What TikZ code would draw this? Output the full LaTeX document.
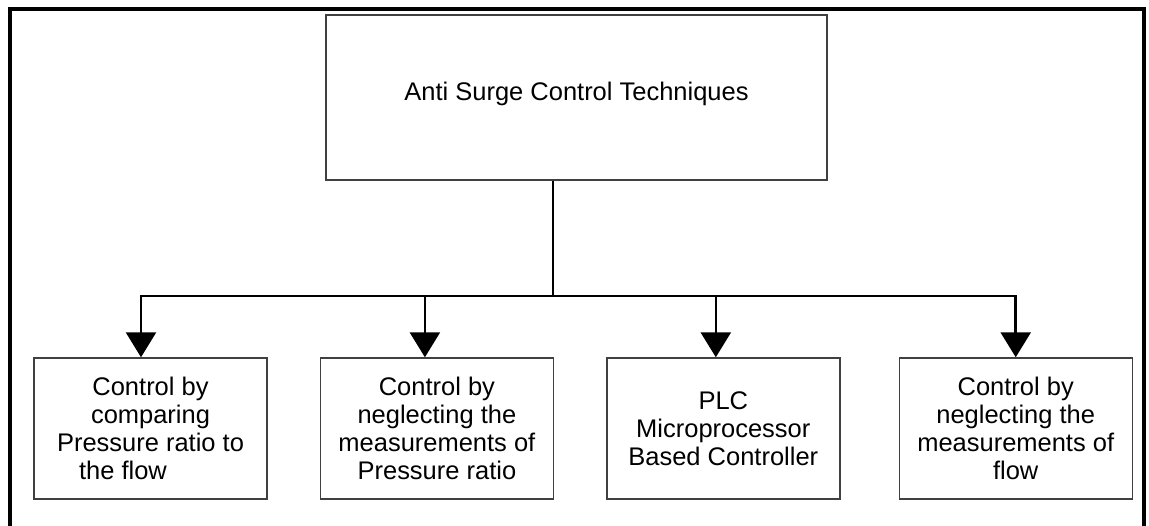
\documentclass[tikz,border=0pt]{standalone}
\usepackage{fontspec}
\setmainfont{Liberation Sans}
\usetikzlibrary{positioning,arrows.meta}

\begin{document}
\begin{tikzpicture}[
	box/.style={draw=black!75, line width=0.8pt, align=center, inner sep=0pt,
		font=\fontsize{14.5}{15.9}\selectfont},
	leaf/.style={box, minimum width=4.66cm, minimum height=2.82cm},
	link/.style={line width=1.5pt},
	branch/.style={link, -{Triangle[width=0.6cm,length=0.5cm]}}
	]
	\useasboundingbox (0,0) rectangle (22.98,10.52);
	
	% draw outer frame
	\draw[line width=2pt] (0.2,0) -- (0.2,10.34) -- (22.88,10.34) -- (22.88,0);
	
	% draw top node
	\node[box, minimum width=10.02cm, minimum height=3.3cm, text depth=0.23cm] (top) at (11.53,8.57) {Anti Surge Control Techniques};
	
	% draw bottom nodes
	\node[leaf] (c1) at (3.01,1.95) {Control by\\comparing\\Pressure ratio to\\the flow\hspace{1.1cm}\mbox{}};
	\node[leaf, right=1.04cm of c1] (c2) {Control by\\neglecting the\\measurements of\\Pressure ratio};
	\node[leaf, right=1.04cm of c2] (c3) {PLC\\Microprocessor\\Based Controller};
	\node[leaf, right=1.16cm of c3] (c4) {Control by\\neglecting the\\measurements of\\flow};
	
	% draw connectors
	\coordinate (stem) at ([xshift=-0.47cm]top.south);
	\coordinate (bus) at (11.06,4.6);
	\draw[link] (stem) -- (bus);
	\foreach \n/\dx in {c1/-0.19, c2/-0.24, c3/-0.15, c4/0}
	\draw[branch] (bus) -| ([xshift=\dx cm]\n.north);
	
\end{tikzpicture}
\end{document}
